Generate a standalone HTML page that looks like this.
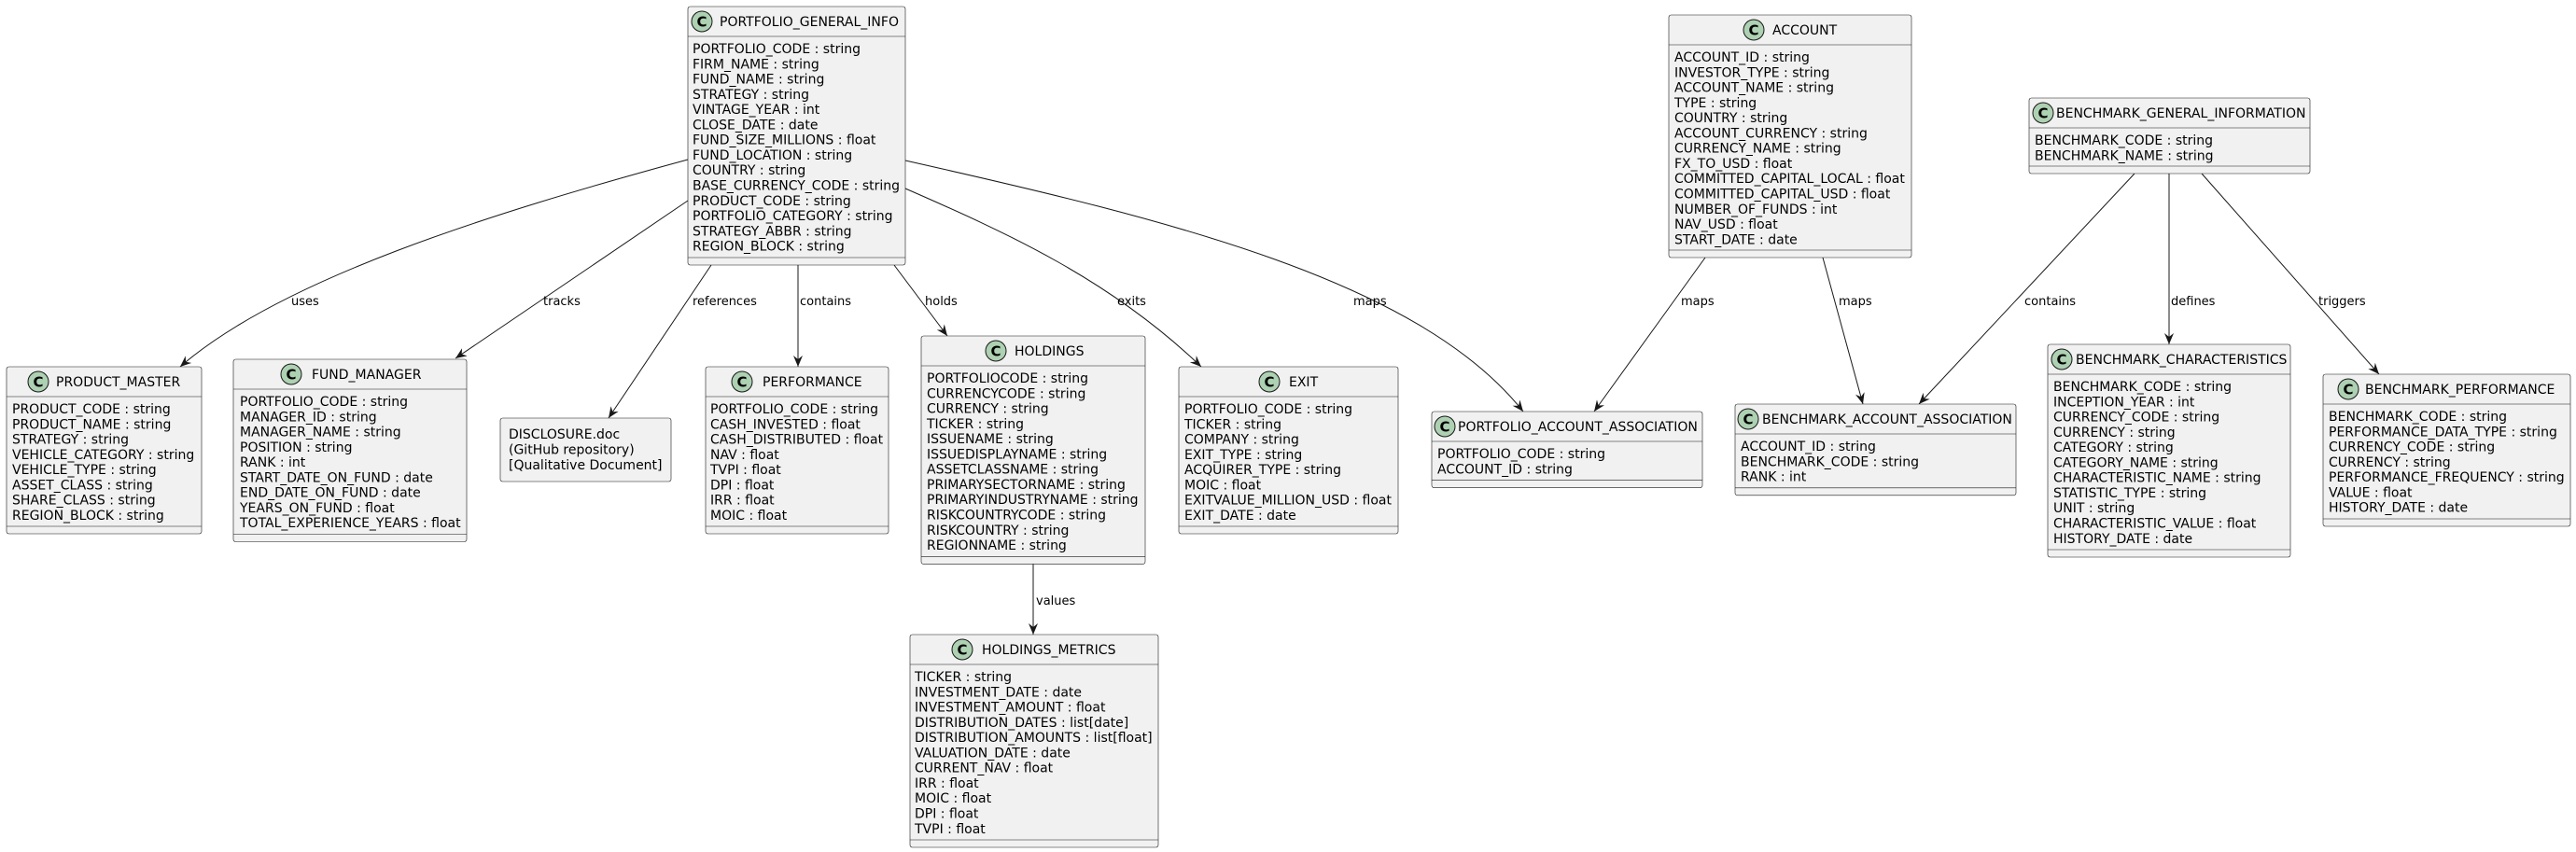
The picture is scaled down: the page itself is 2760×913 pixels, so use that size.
<!DOCTYPE html>
<html><head><meta charset="utf-8"><style>
html,body{margin:0;padding:0;background:#fff;}
svg{display:block;}
text{font-family:"DejaVu Sans","Liberation Sans",sans-serif;fill:#000;}
.b{fill:#F1F1F1;stroke:#181818;stroke-width:0.6;}
.d{stroke:#181818;stroke-width:0.6;}
.ci{fill:#ADD1B2;stroke:#181818;stroke-width:1;}
.cc{font-size:15px;font-weight:bold;}
.t{font-size:14px;}
.r{font-size:14px;}
.l{font-size:13px;}
.e{fill:none;stroke:#181818;stroke-width:1;}
.a{fill:#181818;}
</style></head><body>
<svg width="2760" height="913" viewBox="0 0 2760 913" xmlns="http://www.w3.org/2000/svg">
<defs>
<marker id="ar" viewBox="0 0 12 10" refX="12" refY="5" markerWidth="12" markerHeight="10" markerUnits="userSpaceOnUse" orient="auto">
<path d="M0,0 L12,5 L0,10 L4,5 Z" class="a"/>
</marker>
</defs>

<!-- edges -->
<path class="e" marker-end="url(#ar)" d="M737,171 C520,230 300,300 193,393"/>
<path class="e" marker-end="url(#ar)" d="M737,215 L488,384"/>
<path class="e" marker-end="url(#ar)" d="M762,284 L652,448"/>
<path class="e" marker-end="url(#ar)" d="M855,284 L855,393"/>
<path class="e" marker-end="url(#ar)" d="M958,284 L1015,360"/>
<path class="e" marker-end="url(#ar)" d="M970,202 C1080,250 1190,300 1287,393"/>
<path class="e" marker-end="url(#ar)" d="M970,172 C1250,235 1520,300 1632,441"/>
<path class="e" marker-end="url(#ar)" d="M1827,276 L1708,441"/>
<path class="e" marker-end="url(#ar)" d="M1953,276 L1996,433"/>
<path class="e" marker-end="url(#ar)" d="M2287,186 L2056,433"/>
<path class="e" marker-end="url(#ar)" d="M2324,186 L2324,369"/>
<path class="e" marker-end="url(#ar)" d="M2359,186 L2549,401"/>
<path class="e" marker-end="url(#ar)" d="M1107,604 L1107,680"/>

<g class="l">
<text class="l" x="312" y="327">uses</text>
<text class="l" x="582" y="327">tracks</text>
<text class="l" x="742" y="327">references</text>
<text class="l" x="857" y="327">contains</text>
<text class="l" x="991" y="327">holds</text>
<text class="l" x="1197" y="327">exits</text>
<text class="l" x="1450" y="327">maps</text>
<text class="l" x="1801" y="327">maps</text>
<text class="l" x="1970" y="327">maps</text>
<text class="l" x="2169" y="327">contains</text>
<text class="l" x="2326" y="327">defines</text>
<text class="l" x="2484" y="327">triggers</text>
<text class="l" x="1110" y="648">values</text>
</g>

<!-- PORTFOLIO_GENERAL_INFO -->
<rect class="b" x="737" y="7" width="233" height="277" rx="2.5"/>
<line class="d" x1="737" y1="39" x2="970" y2="39"/><line class="d" x1="737" y1="276" x2="970" y2="276"/>
<circle class="ci" cx="752" cy="23" r="11"/><text class="cc" x="752" y="28.5" text-anchor="middle">C</text>
<text class="t" x="771" y="28">PORTFOLIO_GENERAL_INFO</text>
<text class="r" x="742" y="57"><tspan x="742" dy="0">PORTFOLIO_CODE : string</tspan><tspan x="742" dy="16.28">FIRM_NAME : string</tspan><tspan x="742" dy="16.28">FUND_NAME : string</tspan><tspan x="742" dy="16.28">STRATEGY : string</tspan><tspan x="742" dy="16.28">VINTAGE_YEAR : int</tspan><tspan x="742" dy="16.28">CLOSE_DATE : date</tspan><tspan x="742" dy="16.28">FUND_SIZE_MILLIONS : float</tspan><tspan x="742" dy="16.28">FUND_LOCATION : string</tspan><tspan x="742" dy="16.28">COUNTRY : string</tspan><tspan x="742" dy="16.28">BASE_CURRENCY_CODE : string</tspan><tspan x="742" dy="16.28">PRODUCT_CODE : string</tspan><tspan x="742" dy="16.28">PORTFOLIO_CATEGORY : string</tspan><tspan x="742" dy="16.28">STRATEGY_ABBR : string</tspan><tspan x="742" dy="16.28">REGION_BLOCK : string</tspan></text>

<!-- PRODUCT_MASTER -->
<rect class="b" x="7" y="393" width="209" height="179" rx="2.5"/>
<line class="d" x1="7" y1="425" x2="216" y2="425"/><line class="d" x1="7" y1="564" x2="216" y2="564"/>
<circle class="ci" cx="41" cy="409" r="11"/><text class="cc" x="41" y="414.5" text-anchor="middle">C</text>
<text class="t" x="60" y="414">PRODUCT_MASTER</text>
<text class="r" x="13" y="443"><tspan x="13" dy="0">PRODUCT_CODE : string</tspan><tspan x="13" dy="16.28">PRODUCT_NAME : string</tspan><tspan x="13" dy="16.28">STRATEGY : string</tspan><tspan x="13" dy="16.28">VEHICLE_CATEGORY : string</tspan><tspan x="13" dy="16.28">VEHICLE_TYPE : string</tspan><tspan x="13" dy="16.28">ASSET_CLASS : string</tspan><tspan x="13" dy="16.28">SHARE_CLASS : string</tspan><tspan x="13" dy="16.28">REGION_BLOCK : string</tspan></text>

<!-- FUND_MANAGER -->
<rect class="b" x="250" y="385" width="250" height="195.5" rx="2.5"/>
<line class="d" x1="250" y1="417" x2="500" y2="417"/><line class="d" x1="250" y1="572.5" x2="500" y2="572.5"/>
<circle class="ci" cx="312" cy="401" r="11"/><text class="cc" x="312" y="406.5" text-anchor="middle">C</text>
<text class="t" x="334" y="406">FUND_MANAGER</text>
<text class="r" x="257" y="435"><tspan x="257" dy="0">PORTFOLIO_CODE : string</tspan><tspan x="257" dy="16.28">MANAGER_ID : string</tspan><tspan x="257" dy="16.28">MANAGER_NAME : string</tspan><tspan x="257" dy="16.28">POSITION : string</tspan><tspan x="257" dy="16.28">RANK : int</tspan><tspan x="257" dy="16.28">START_DATE_ON_FUND : date</tspan><tspan x="257" dy="16.28">END_DATE_ON_FUND : date</tspan><tspan x="257" dy="16.28">YEARS_ON_FUND : float</tspan><tspan x="257" dy="16.28">TOTAL_EXPERIENCE_YEARS : float</tspan></text>

<!-- DISCLOSURE -->
<rect class="b" x="536" y="448" width="183" height="68" rx="2.5"/>
<text class="r" x="545" y="470"><tspan x="545" dy="0">DISCLOSURE.doc</tspan><tspan x="545" dy="16.5">(GitHub repository)</tspan><tspan x="545" dy="16.5">[Qualitative Document]</tspan></text>

<!-- PERFORMANCE -->
<rect class="b" x="756" y="393" width="196" height="179" rx="2.5"/>
<line class="d" x1="756" y1="425" x2="952" y2="425"/><line class="d" x1="756" y1="564" x2="952" y2="564"/>
<circle class="ci" cx="795" cy="409" r="11"/><text class="cc" x="795" y="414.5" text-anchor="middle">C</text>
<text class="t" x="817" y="414">PERFORMANCE</text>
<text class="r" x="761" y="443"><tspan x="761" dy="0">PORTFOLIO_CODE : string</tspan><tspan x="761" dy="16.28">CASH_INVESTED : float</tspan><tspan x="761" dy="16.28">CASH_DISTRIBUTED : float</tspan><tspan x="761" dy="16.28">NAV : float</tspan><tspan x="761" dy="16.28">TVPI : float</tspan><tspan x="761" dy="16.28">DPI : float</tspan><tspan x="761" dy="16.28">IRR : float</tspan><tspan x="761" dy="16.28">MOIC : float</tspan></text>

<!-- HOLDINGS -->
<rect class="b" x="987" y="360" width="240" height="244.4" rx="2.5"/>
<line class="d" x1="987" y1="392" x2="1227" y2="392"/><line class="d" x1="987" y1="596.4" x2="1227" y2="596.4"/>
<circle class="ci" cx="1067" cy="376" r="11"/><text class="cc" x="1067" y="381.5" text-anchor="middle">C</text>
<text class="t" x="1087" y="381">HOLDINGS</text>
<text class="r" x="993" y="410"><tspan x="993" dy="0">PORTFOLIOCODE : string</tspan><tspan x="993" dy="16.28">CURRENCYCODE : string</tspan><tspan x="993" dy="16.28">CURRENCY : string</tspan><tspan x="993" dy="16.28">TICKER : string</tspan><tspan x="993" dy="16.28">ISSUENAME : string</tspan><tspan x="993" dy="16.28">ISSUEDISPLAYNAME : string</tspan><tspan x="993" dy="16.28">ASSETCLASSNAME : string</tspan><tspan x="993" dy="16.28">PRIMARYSECTORNAME : string</tspan><tspan x="993" dy="16.28">PRIMARYINDUSTRYNAME : string</tspan><tspan x="993" dy="16.28">RISKCOUNTRYCODE : string</tspan><tspan x="993" dy="16.28">RISKCOUNTRY : string</tspan><tspan x="993" dy="16.28">REGIONNAME : string</tspan></text>

<!-- EXIT -->
<rect class="b" x="1263" y="393" width="235" height="179" rx="2.5"/>
<line class="d" x1="1263" y1="425" x2="1498" y2="425"/><line class="d" x1="1263" y1="564" x2="1498" y2="564"/>
<circle class="ci" cx="1360" cy="409" r="11"/><text class="cc" x="1360" y="414.5" text-anchor="middle">C</text>
<text class="t" x="1381" y="414">EXIT</text>
<text class="r" x="1269" y="443"><tspan x="1269" dy="0">PORTFOLIO_CODE : string</tspan><tspan x="1269" dy="16.28">TICKER : string</tspan><tspan x="1269" dy="16.28">COMPANY : string</tspan><tspan x="1269" dy="16.28">EXIT_TYPE : string</tspan><tspan x="1269" dy="16.28">ACQUIRER_TYPE : string</tspan><tspan x="1269" dy="16.28">MOIC : float</tspan><tspan x="1269" dy="16.28">EXITVALUE_MILLION_USD : float</tspan><tspan x="1269" dy="16.28">EXIT_DATE : date</tspan></text>

<!-- PORTFOLIO_ACCOUNT_ASSOCIATION -->
<rect class="b" x="1534" y="441" width="290" height="81.6" rx="2.5"/>
<line class="d" x1="1534" y1="473" x2="1824" y2="473"/><line class="d" x1="1534" y1="514.6" x2="1824" y2="514.6"/>
<circle class="ci" cx="1548" cy="457" r="11"/><text class="cc" x="1548" y="462.5" text-anchor="middle">C</text>
<text class="t" x="1562" y="462">PORTFOLIO_ACCOUNT_ASSOCIATION</text>
<text class="r" x="1540" y="491"><tspan x="1540" dy="0">PORTFOLIO_CODE : string</tspan><tspan x="1540" dy="16.28">ACCOUNT_ID : string</tspan></text>

<!-- HOLDINGS_METRICS -->
<rect class="b" x="975" y="680" width="266" height="228" rx="2.5"/>
<line class="d" x1="975" y1="712" x2="1241" y2="712"/><line class="d" x1="975" y1="900" x2="1241" y2="900"/>
<circle class="ci" cx="1031" cy="696" r="11"/><text class="cc" x="1031" y="701.5" text-anchor="middle">C</text>
<text class="t" x="1052" y="701">HOLDINGS_METRICS</text>
<text class="r" x="980" y="730"><tspan x="980" dy="0">TICKER : string</tspan><tspan x="980" dy="16.28">INVESTMENT_DATE : date</tspan><tspan x="980" dy="16.28">INVESTMENT_AMOUNT : float</tspan><tspan x="980" dy="16.28">DISTRIBUTION_DATES : list[date]</tspan><tspan x="980" dy="16.28">DISTRIBUTION_AMOUNTS : list[float]</tspan><tspan x="980" dy="16.28">VALUATION_DATE : date</tspan><tspan x="980" dy="16.28">CURRENT_NAV : float</tspan><tspan x="980" dy="16.28">IRR : float</tspan><tspan x="980" dy="16.28">MOIC : float</tspan><tspan x="980" dy="16.28">DPI : float</tspan><tspan x="980" dy="16.28">TVPI : float</tspan></text>

<!-- ACCOUNT -->
<rect class="b" x="1788" y="16" width="260" height="260" rx="2.5"/>
<line class="d" x1="1788" y1="48" x2="2048" y2="48"/><line class="d" x1="1788" y1="268" x2="2048" y2="268"/>
<circle class="ci" cx="1879" cy="32" r="11"/><text class="cc" x="1879" y="37.5" text-anchor="middle">C</text>
<text class="t" x="1899" y="37">ACCOUNT</text>
<text class="r" x="1794" y="66"><tspan x="1794" dy="0">ACCOUNT_ID : string</tspan><tspan x="1794" dy="16.28">INVESTOR_TYPE : string</tspan><tspan x="1794" dy="16.28">ACCOUNT_NAME : string</tspan><tspan x="1794" dy="16.28">TYPE : string</tspan><tspan x="1794" dy="16.28">COUNTRY : string</tspan><tspan x="1794" dy="16.28">ACCOUNT_CURRENCY : string</tspan><tspan x="1794" dy="16.28">CURRENCY_NAME : string</tspan><tspan x="1794" dy="16.28">FX_TO_USD : float</tspan><tspan x="1794" dy="16.28">COMMITTED_CAPITAL_LOCAL : float</tspan><tspan x="1794" dy="16.28">COMMITTED_CAPITAL_USD : float</tspan><tspan x="1794" dy="16.28">NUMBER_OF_FUNDS : int</tspan><tspan x="1794" dy="16.28">NAV_USD : float</tspan><tspan x="1794" dy="16.28">START_DATE : date</tspan></text>

<!-- BENCHMARK_GENERAL_INFORMATION -->
<rect class="b" x="2174" y="105" width="301" height="81" rx="2.5"/>
<line class="d" x1="2174" y1="137" x2="2475" y2="137"/><line class="d" x1="2174" y1="178" x2="2475" y2="178"/>
<circle class="ci" cx="2189" cy="121" r="11"/><text class="cc" x="2189" y="126.5" text-anchor="middle">C</text>
<text class="t" x="2203" y="126">BENCHMARK_GENERAL_INFORMATION</text>
<text class="r" x="2180" y="155"><tspan x="2180" dy="0">BENCHMARK_CODE : string</tspan><tspan x="2180" dy="16.28">BENCHMARK_NAME : string</tspan></text>

<!-- BENCHMARK_ACCOUNT_ASSOCIATION -->
<rect class="b" x="1859" y="433" width="301" height="97.8" rx="2.5"/>
<line class="d" x1="1859" y1="465" x2="2160" y2="465"/><line class="d" x1="1859" y1="522.8" x2="2160" y2="522.8"/>
<circle class="ci" cx="1873" cy="449" r="11"/><text class="cc" x="1873" y="454.5" text-anchor="middle">C</text>
<text class="t" x="1888" y="454">BENCHMARK_ACCOUNT_ASSOCIATION</text>
<text class="r" x="1865" y="483"><tspan x="1865" dy="0">ACCOUNT_ID : string</tspan><tspan x="1865" dy="16.28">BENCHMARK_CODE : string</tspan><tspan x="1865" dy="16.28">RANK : int</tspan></text>

<!-- BENCHMARK_CHARACTERISTICS -->
<rect class="b" x="2194" y="369" width="260" height="228" rx="2.5"/>
<line class="d" x1="2194" y1="401" x2="2454" y2="401"/><line class="d" x1="2194" y1="589" x2="2454" y2="589"/>
<circle class="ci" cx="2209" cy="385" r="11"/><text class="cc" x="2209" y="390.5" text-anchor="middle">C</text>
<text class="t" x="2224" y="390">BENCHMARK_CHARACTERISTICS</text>
<text class="r" x="2200" y="419"><tspan x="2200" dy="0">BENCHMARK_CODE : string</tspan><tspan x="2200" dy="16.28">INCEPTION_YEAR : int</tspan><tspan x="2200" dy="16.28">CURRENCY_CODE : string</tspan><tspan x="2200" dy="16.28">CURRENCY : string</tspan><tspan x="2200" dy="16.28">CATEGORY : string</tspan><tspan x="2200" dy="16.28">CATEGORY_NAME : string</tspan><tspan x="2200" dy="16.28">CHARACTERISTIC_NAME : string</tspan><tspan x="2200" dy="16.28">STATISTIC_TYPE : string</tspan><tspan x="2200" dy="16.28">UNIT : string</tspan><tspan x="2200" dy="16.28">CHARACTERISTIC_VALUE : float</tspan><tspan x="2200" dy="16.28">HISTORY_DATE : date</tspan></text>

<!-- BENCHMARK_PERFORMANCE -->
<rect class="b" x="2489" y="401" width="265" height="163" rx="2.5"/>
<line class="d" x1="2489" y1="433" x2="2754" y2="433"/><line class="d" x1="2489" y1="556" x2="2754" y2="556"/>
<circle class="ci" cx="2516" cy="417" r="11"/><text class="cc" x="2516" y="422.5" text-anchor="middle">C</text>
<text class="t" x="2534" y="422">BENCHMARK_PERFORMANCE</text>
<text class="r" x="2495" y="451"><tspan x="2495" dy="0">BENCHMARK_CODE : string</tspan><tspan x="2495" dy="16.28">PERFORMANCE_DATA_TYPE : string</tspan><tspan x="2495" dy="16.28">CURRENCY_CODE : string</tspan><tspan x="2495" dy="16.28">CURRENCY : string</tspan><tspan x="2495" dy="16.28">PERFORMANCE_FREQUENCY : string</tspan><tspan x="2495" dy="16.28">VALUE : float</tspan><tspan x="2495" dy="16.28">HISTORY_DATE : date</tspan></text>
</svg>
</body></html>
